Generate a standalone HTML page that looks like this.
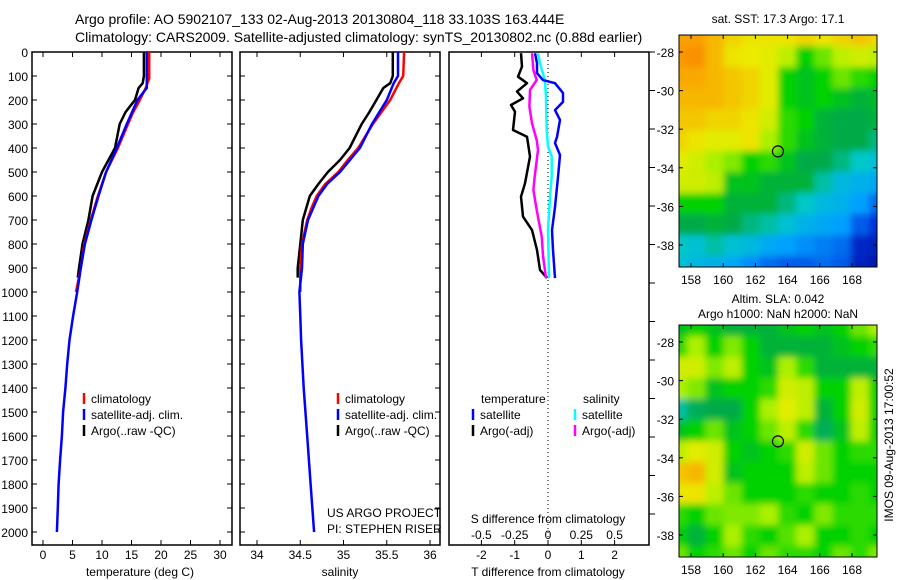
<!DOCTYPE html>
<html><head><meta charset="utf-8"><style>
body{margin:0;background:#fff;}
svg{display:block;font-family:"Liberation Sans",sans-serif;}
</style></head><body>
<svg id="c" width="900" height="580"></svg>
<script>
// ---------- data ----------
const argoTDepth=[0,100,130,150,200,250,300,400,500,600,700,800,900,940];
const argoT=[17.1,17.1,16.9,16.2,15.6,14.0,13.0,12.2,10.0,8.4,7.7,6.7,6.1,5.9];
const climTDepth=[0,110,150,200,250,300,400,500,600,700,800,900,1000];
const climT=[18.0,18.0,17.4,16.4,15.3,14.4,12.7,10.7,9.3,8.1,7.0,6.4,5.6];
const satTDepth=[0,150,200,300,400,500,600,700,800,900,1000,1100,1200,1300,1400,1500,1600,1700,1800,1900,2000];
const satT=[17.6,17.6,16.0,14.2,12.5,10.7,9.4,8.2,7.1,6.4,5.8,5.1,4.5,4.1,3.8,3.4,3.2,2.9,2.65,2.5,2.35];
const argoSDepth=[0,100,130,150,200,250,300,400,450,500,550,600,650,700,800,900,940];
const argoS=[35.57,35.57,35.54,35.46,35.38,35.30,35.21,35.07,34.96,34.82,34.71,34.61,34.57,34.53,34.50,34.47,34.47];
const climSDepth=[0,100,130,200,300,400,450,500,550,600,650,700,800,900,1000];
const climS=[35.70,35.69,35.64,35.54,35.34,35.17,35.05,34.94,34.79,34.69,34.63,34.58,34.52,34.50,34.50];
const satSDepth=[0,100,130,200,300,400,500,550,600,700,800,900,1000,1100,1200,1400,1600,1800,2000];
const satS=[35.63,35.63,35.58,35.50,35.33,35.19,34.96,34.81,34.71,34.59,34.53,34.52,34.49,34.50,34.51,34.54,34.58,34.62,34.66];
const dTArgoDepth=[5,61,103,130,165,193,221,249,325,353,436,547,603,686,742,825,908,942];
const dTArgo=[-0.81,-0.78,-0.9,-0.63,-0.93,-0.75,-1.11,-0.99,-1.05,-0.63,-0.54,-0.69,-0.81,-0.75,-0.48,-0.33,-0.24,-0.03];
const dTSatDepth=[5,47,88,117,130,171,208,242,283,354,379,429,521,646,742,825,942];
const dTSat=[-0.39,-0.33,-0.33,-0.15,0.21,0.45,0.45,0.21,0.36,0.27,0.21,0.36,0.3,0.21,0.12,0.15,0.21];
const dSArgoDepth=[5,75,117,158,228,297,367,408,519,575,658,769,853,942];
const dSArgo=[-0.12,-0.11,-0.085,-0.135,-0.14,-0.12,-0.085,-0.075,-0.1,-0.11,-0.085,-0.047,-0.037,-0.015];
const dSSatDepth=[5,47,117,186,325,394,436,519,603,742,942];
const dSSat=[-0.075,-0.06,-0.023,-0.015,-0.01,0,0.028,0.028,0.015,0,0.008];
const depthTicks=[0,100,200,300,400,500,600,700,800,900,1000,1100,1200,1300,1400,1500,1600,1700,1800,1900,2000];
const tempTicks=[0,5,10,15,20,25,30];
const salTicks=[34,34.5,35,35.5,36];
const salTickLabels=["34","34.5","35","35.5","36"];
const dTTicks=[-2,-1,0,1,2];
const dSTickLabels=["-0.5","-0.25","0","0.25","0.5"];
const lonTicks=[158,160,162,164,166,168];
const latTicks=[-28,-30,-32,-34,-36,-38];
const sstGrid=[
[.75,.75,.72,.68,.66,.66,.66,.68,.66,.68,.70,.68],
[.76,.77,.72,.66,.65,.64,.60,.50,.55,.60,.62,.60],
[.74,.74,.72,.70,.68,.64,.50,.48,.50,.55,.52,.50],
[.72,.72,.72,.70,.68,.64,.50,.48,.50,.48,.46,.47],
[.70,.70,.68,.68,.66,.62,.52,.50,.46,.45,.45,.46],
[.68,.66,.64,.64,.66,.58,.52,.48,.46,.45,.45,.42],
[.64,.62,.58,.56,.50,.52,.48,.45,.45,.42,.38,.36],
[.62,.62,.60,.48,.48,.46,.46,.46,.40,.34,.32,.30],
[.50,.50,.50,.46,.46,.46,.42,.38,.34,.32,.28,.22],
[.45,.45,.46,.45,.42,.40,.36,.32,.30,.28,.20,.15],
[.38,.36,.40,.36,.34,.30,.28,.26,.24,.22,.12,.10],
[.36,.34,.32,.30,.26,.22,.20,.20,.22,.20,.10,.08]];
const slaGrid=[
[.48,.50,.48,.46,.46,.46,.48,.50,.48,.50,.55,.58],
[.52,.58,.50,.56,.50,.46,.46,.46,.46,.48,.50,.52],
[.62,.62,.56,.60,.50,.48,.58,.52,.46,.46,.46,.46],
[.58,.56,.48,.50,.50,.52,.62,.60,.50,.50,.60,.50],
[.40,.44,.45,.45,.50,.58,.64,.60,.46,.50,.62,.50],
[.48,.50,.55,.48,.50,.55,.60,.52,.44,.48,.60,.50],
[.60,.64,.62,.50,.48,.50,.52,.62,.55,.50,.52,.52],
[.70,.72,.62,.48,.50,.50,.50,.60,.55,.50,.50,.50],
[.66,.66,.60,.55,.50,.50,.50,.52,.50,.50,.52,.50],
[.52,.50,.55,.56,.56,.58,.52,.50,.56,.52,.52,.52],
[.50,.46,.50,.58,.52,.50,.54,.58,.50,.50,.52,.50],
[.55,.50,.52,.55,.50,.55,.52,.52,.50,.55,.52,.56]];
const floatLon=163.4, floatLat=-33.15;

// ---------- helpers ----------
const NS="http://www.w3.org/2000/svg";
const svg=document.getElementById('c');
function el(tag,attrs,parent){const e=document.createElementNS(NS,tag);for(const k in attrs)e.setAttribute(k,attrs[k]);(parent||svg).appendChild(e);return e;}
function txt(x,y,s,anchor,size,parent,name){const t=el('text',{x:x,y:y,'text-anchor':anchor||'start','font-size':size||12,fill:'#000'},parent);t.textContent=s;


return t;}
const TOP=52,BOT=545;
const yD=d=>TOP+d*0.24;

txt(75,24,"Argo profile: AO 5902107_133 02-Aug-2013 20130804_118 33.103S 163.444E","start",14,null,"title-line-1");
txt(75,42,"Climatology: CARS2009. Satellite-adjusted climatology: synTS_20130802.nc (0.88d earlier)","start",14,null,"title-line-2");

function panel(x0,x1,name){
  const g=el('g',{});
  
  
  el('rect',{x:x0,y:TOP,width:x1-x0,height:BOT-TOP,fill:'#fff',stroke:'#000','stroke-width':1.5},g);
  depthTicks.forEach(d=>{el('line',{x1:x0,x2:x0+5,y1:yD(d),y2:yD(d),stroke:'#000'},g);el('line',{x1:x1-5,x2:x1,y1:yD(d),y2:yD(d),stroke:'#000'},g);});
  return g;
}
function line(g,xs,ds,fx,color,name){
  const pts=xs.map((v,i)=>fx(v).toFixed(1)+","+yD(ds[i]).toFixed(1)).join(" ");
  const p=el('polyline',{points:pts,fill:'none',stroke:color,'stroke-width':2.5,'stroke-linejoin':'round'},g);
  
  
}
function xticks(g,vals,fx){vals.forEach(v=>{const x=fx(v);el('line',{x1:x,x2:x,y1:TOP,y2:TOP+5,stroke:'#000'},g);el('line',{x1:x,x2:x,y1:BOT-5,y2:BOT,stroke:'#000'},g);});}
function legend(g,x,y,items){items.forEach((it,i)=>{el('line',{x1:x,x2:x,y1:y+i*16-10,y2:y+i*16+1,stroke:it[0],'stroke-width':2.5},g);txt(x+7,y+i*16,it[1],'start',12,g,'legend-entry');});}

const xT=v=>43+5.9*v;
const g1=panel(32,232,"temperature-panel");
depthTicks.forEach(d=>txt(28,yD(d)+5,String(d),'end',12,g1,'depth-tick-label'));
xticks(g1,tempTicks,xT);
tempTicks.forEach(v=>txt(xT(v),559,String(v),'middle',12,g1,'temp-tick-label'));
txt(140,576,"temperature (deg C)",'middle',12,g1,'x-axis-title');
line(g1,argoT,argoTDepth,xT,'#000','argo-temp-line');
line(g1,climT,climTDepth,xT,'#f00','clim-temp-line');
line(g1,satT,satTDepth,xT,'#00f','sat-temp-line');
legend(g1,84,403,[['#f00','climatology'],['#00f','satellite-adj. clim.'],['#000','Argo(..raw -QC)']]);

const xS=v=>257+86.5*(v-34);
const g2=panel(240,440,"salinity-panel");
xticks(g2,salTicks,xS);
salTicks.forEach((v,i)=>txt(xS(v),559,salTickLabels[i],'middle',12,g2,'sal-tick-label'));
txt(340,576,"salinity",'middle',12,g2,'x-axis-title');
line(g2,argoS,argoSDepth,xS,'#000','argo-sal-line');
line(g2,climS,climSDepth,xS,'#f00','clim-sal-line');
line(g2,satS,satSDepth,xS,'#00f','sat-sal-line');
legend(g2,338,403,[['#f00','climatology'],['#00f','satellite-adj. clim.'],['#000','Argo(..raw -QC)']]);
txt(327,517,"US ARGO PROJECT",'start',12,g2,'project-credit');
txt(327,533,"PI: STEPHEN RISER",'start',12,g2,'pi-credit');

const xdT=v=>548+33.3*v, xdS=v=>548+133*v;
const g3=el('g',{});


el('rect',{x:449,y:TOP,width:200,height:BOT-TOP,fill:'#fff',stroke:'#000','stroke-width':1.5},g3);
for(let y=TOP;y<BOT;y+=38.5)el('line',{x1:649,x2:655,y1:y,y2:y,stroke:'#000'},g3);
xticks(g3,dTTicks,xdT);
el('line',{x1:548,x2:548,y1:TOP,y2:BOT,stroke:'#000','stroke-dasharray':'1,3'},g3);
dTTicks.forEach(v=>txt(xdT(v),559,String(v),'middle',12,g3,'dT-tick-label'));
dTTicks.forEach((v,i)=>txt(xdT(v),539,dSTickLabels[i],'middle',12,g3,'dS-tick-label'));
txt(548,523,"S difference from climatology",'middle',12,g3,'s-axis-title');
txt(548,576,"T difference from climatology",'middle',12,g3,'x-axis-title');
line(g3,dTArgo,dTArgoDepth,xdT,'#000','argo-dT-line');
line(g3,dSArgo,dSArgoDepth,xdS,'#f0f','argo-dS-line');
line(g3,dSSat,dSSatDepth,xdS,'#0ff','sat-dS-line');
line(g3,dTSat,dTSatDepth,xdT,'#00f','sat-dT-line');
txt(481,403,"temperature",'start',12,g3,'legend-heading');
txt(583,403,"salinity",'start',12,g3,'legend-heading');
legend(g3,473,419,[['#00f','satellite'],['#000','Argo(-adj)']]);
legend(g3,575,419,[['#0ff','satellite'],['#f0f','Argo(-adj)']]);

// colormap
const cmStops=[[0,[0,0,120]],[0.15,[0,50,220]],[0.28,[0,160,255]],[0.38,[0,200,200]],[0.45,[0,170,70]],[0.5,[0,210,0]],[0.58,[170,240,0]],[0.65,[235,235,0]],[0.75,[250,160,0]],[0.9,[240,40,0]],[1,[150,0,0]]];
function cmap(v){for(let i=1;i<cmStops.length;i++){if(v<=cmStops[i][0]){const a=cmStops[i-1],b=cmStops[i],t=(v-a[0])/(b[0]-a[0]);const c=a[1].map((q,k)=>Math.round(q+(b[1][k]-q)*t));return `rgb(${c[0]},${c[1]},${c[2]})`;}}return 'rgb(150,0,0)';}
const defs=el('defs',{});
const f=el('filter',{id:'bl',x:'-10%',y:'-10%',width:'120%',height:'120%'},defs);
el('feGaussianBlur',{stdDeviation:3.5},f);
function map(y0,y1,grid,name,clip){
  const x0=679,x1=877;
  const lonX=l=>691+16.1*(l-158), latY=l=>(y0+17)+19.3*(-28-l);
  const g=el('g',{});
  
  
  const cp=el('clipPath',{id:clip},defs);
  el('rect',{x:x0,y:y0,width:x1-x0,height:y1-y0},cp);
  const cg=el('g',{'clip-path':`url(#${clip})`},g);
  const bg=el('g',{filter:'url(#bl)'},cg);
  const nr=grid.length,nc=grid[0].length,cw=(x1-x0+20)/nc,ch=(y1-y0+20)/nr;
  grid.forEach((row,i)=>row.forEach((v,j)=>{
    const c=el('rect',{x:x0-10+j*cw,y:y0-10+i*ch,width:cw+0.5,height:ch+0.5,fill:cmap(v)},bg);
    
    
  }));
  el('rect',{x:x0,y:y0,width:x1-x0,height:y1-y0,fill:'none',stroke:'#000'},g);
  lonTicks.forEach(l=>{const x=lonX(l);el('line',{x1:x,x2:x,y1:y0,y2:y0+4,stroke:'#000'},g);el('line',{x1:x,x2:x,y1:y1-4,y2:y1,stroke:'#000'},g);txt(x,y1+17,String(l),'middle',12,g,'lon-tick-label');});
  latTicks.forEach(l=>{const y=latY(l);el('line',{x1:x0,x2:x0+4,y1:y,y2:y,stroke:'#000'},g);el('line',{x1:x1-4,x2:x1,y1:y,y2:y,stroke:'#000'},g);txt(x0-5,y+5,String(l),'end',12,g,'lat-tick-label');});
  const c=el('circle',{cx:lonX(floatLon),cy:latY(floatLat),r:5.5,fill:'none',stroke:'#000','stroke-width':1.2},g);
  
  
}
map(35,267,sstGrid,'sst-map','cp1');
map(325,557,slaGrid,'sla-map','cp2');
txt(778,23,"sat. SST: 17.3 Argo: 17.1",'middle',12,null,'sst-map-title');
txt(778,303,"Altim. SLA: 0.042",'middle',12,null,'sla-map-title');
txt(778,318,"Argo h1000: NaN h2000: NaN",'middle',12,null,'sla-map-subtitle');
const vt=txt(0,0,"IMOS 09-Aug-2013 17:00:52",'middle',12,null,'timestamp');
vt.setAttribute('transform','translate(893,445) rotate(-90)');
</script>
</body></html>
